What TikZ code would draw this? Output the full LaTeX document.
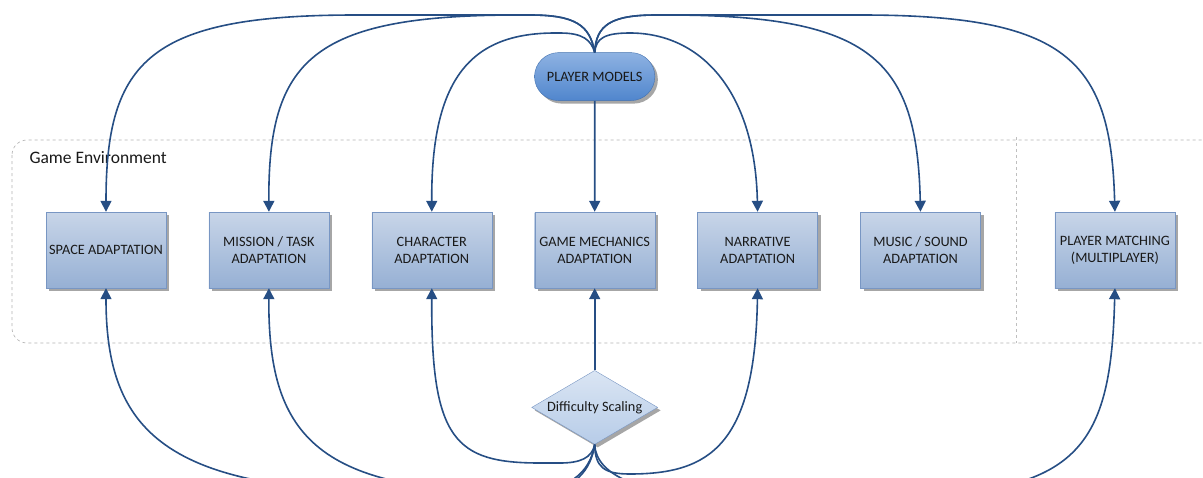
\documentclass[tikz,border=0pt]{standalone}
\usepackage{fontspec}
\setmainfont{Carlito}
\usetikzlibrary{positioning,shapes.geometric,shapes.misc,shadows,arrows.meta}

\definecolor{linkblue}{RGB}{38,78,132}
\definecolor{boxtop}{RGB}{200,213,232}
\definecolor{boxbot}{RGB}{150,176,212}
\definecolor{boxline}{RGB}{120,150,195}
\definecolor{pmtop}{RGB}{142,178,226}
\definecolor{pmbot}{RGB}{80,134,205}
\definecolor{pmline}{RGB}{68,114,176}
\definecolor{dstop}{RGB}{218,229,243}
\definecolor{dsbot}{RGB}{183,204,232}

\tikzset{
  shade off/.style={drop shadow={shadow xshift=3pt, shadow yshift=-3pt, fill=black!35, opacity=1}},
  adapt/.style={rectangle, draw=boxline, top color=boxtop, bottom color=boxbot,
    minimum width=120pt, minimum height=76pt, align=center, inner sep=2pt,
    font=\fontsize{14.3}{17}\selectfont, text=black!90, shade off},
  models/.style={rounded rectangle, draw=pmline, top color=pmtop, bottom color=pmbot,
    minimum width=127pt, minimum height=48pt, font=\fontsize{14.3}{17}\selectfont,
    text=black!90, shade off},
  scaling/.style={diamond, draw=boxline, top color=dstop, bottom color=dsbot,
    aspect=1.7, inner sep=0pt, minimum width=126pt, minimum height=74pt,
    font=\fontsize{14.3}{17}\selectfont, text=black!90, shade off},
  flow/.style={draw=linkblue, line width=1.6pt, -{Triangle[length=11pt,width=11pt]}},
  envbox/.style={draw=black!30, dashed, line width=0.6pt, rounded corners=15pt}
}

\begin{document}
\begin{tikzpicture}[x=1pt, y=-1pt]

  \useasboundingbox (0,0) rectangle (1203,477);

  % game environment frame
  \draw[envbox] (12,140) rectangle (1225,343);
  \draw[draw=black!25, dashed, line width=0.9pt] (1016,137) -- (1016,343);
  \node (env) [anchor=base west, font=\fontsize{17.5}{20}\selectfont, text=black!90] at (26,163) {Game Environment};

  \node (space) [adapt] at (106,250) {SPACE ADAPTATION};
  \node (mission) [adapt, right=42.5pt of space] {MISSION / TASK\\ADAPTATION};
  \node (character) [adapt, right=42.5pt of mission] {CHARACTER\\ADAPTATION};
  \node (mechanics) [adapt, right=42.5pt of character] {GAME MECHANICS\\ADAPTATION};
  \node (narrative) [adapt, right=42.5pt of mechanics] {NARRATIVE\\ADAPTATION};
  \node (music) [adapt, right=42.5pt of narrative] {MUSIC / SOUND\\ADAPTATION};
  \node (matching) [adapt, right=74pt of music] {PLAYER MATCHING\\(MULTIPLAYER)};

  \node (pm) [models, above=111pt of mechanics] {PLAYER MODELS};
  \node (diff) [scaling, below=82pt of mechanics] {Difficulty Scaling};

  % from player models
  \draw[flow] (pm) -- (mechanics);
  \draw[flow] (pm.north) .. controls (590,25) and (575,15) .. (530,15) -- (356,15)
    .. controls (150,15) and (106,60) .. (space.north);
  \draw[flow] (pm.north) .. controls (590,25) and (575,15) .. (530,15) -- (518,15)
    .. controls (312,15) and (268,60) .. (mission.north);
  \draw[flow] (pm.north) .. controls (591,40) and (583,33) .. (560,33) -- (555,33)
    .. controls (471,33) and (431,78) .. (character.north);
  \draw[flow] (pm.north) .. controls (596,38) and (605,33) .. (630,33)
    .. controls (700,33) and (755,90) .. (narrative.north);
  \draw[flow] (pm.north) .. controls (596,25) and (611,15) .. (656,15) -- (667,15)
    .. controls (873,15) and (917,60) .. (music.north);
  \draw[flow] (pm.north) .. controls (596,25) and (611,15) .. (656,15) -- (861,15)
    .. controls (1067,15) and (1111,60) .. (matching.north);

  % from difficulty scaling
  \draw[flow] (diff) -- (mechanics);
  \draw[flow] (diff.south) .. controls (590,472) and (570,492) .. (520,492) -- (406,492)
    .. controls (166,492) and (106,432) .. (space.south);
  \draw[flow] (diff.south) .. controls (591,470) and (575,490) .. (540,492) -- (518,492)
    .. controls (313,492) and (268,432) .. (mission.south);
  \draw[flow] (diff.south) .. controls (592,458) and (580,463) .. (560,463) -- (540,463)
    .. controls (455,463) and (431,440) .. (character.south);
  \draw[flow] (diff.south) .. controls (595,468) and (605,474) .. (630,474)
    .. controls (710,474) and (755,445) .. (narrative.south);
  \draw[flow] (diff.south) .. controls (596,475) and (640,495) .. (720,495) -- (900,495)
    .. controls (1080,495) and (1111,445) .. (matching.south);

\end{tikzpicture}
\end{document}
